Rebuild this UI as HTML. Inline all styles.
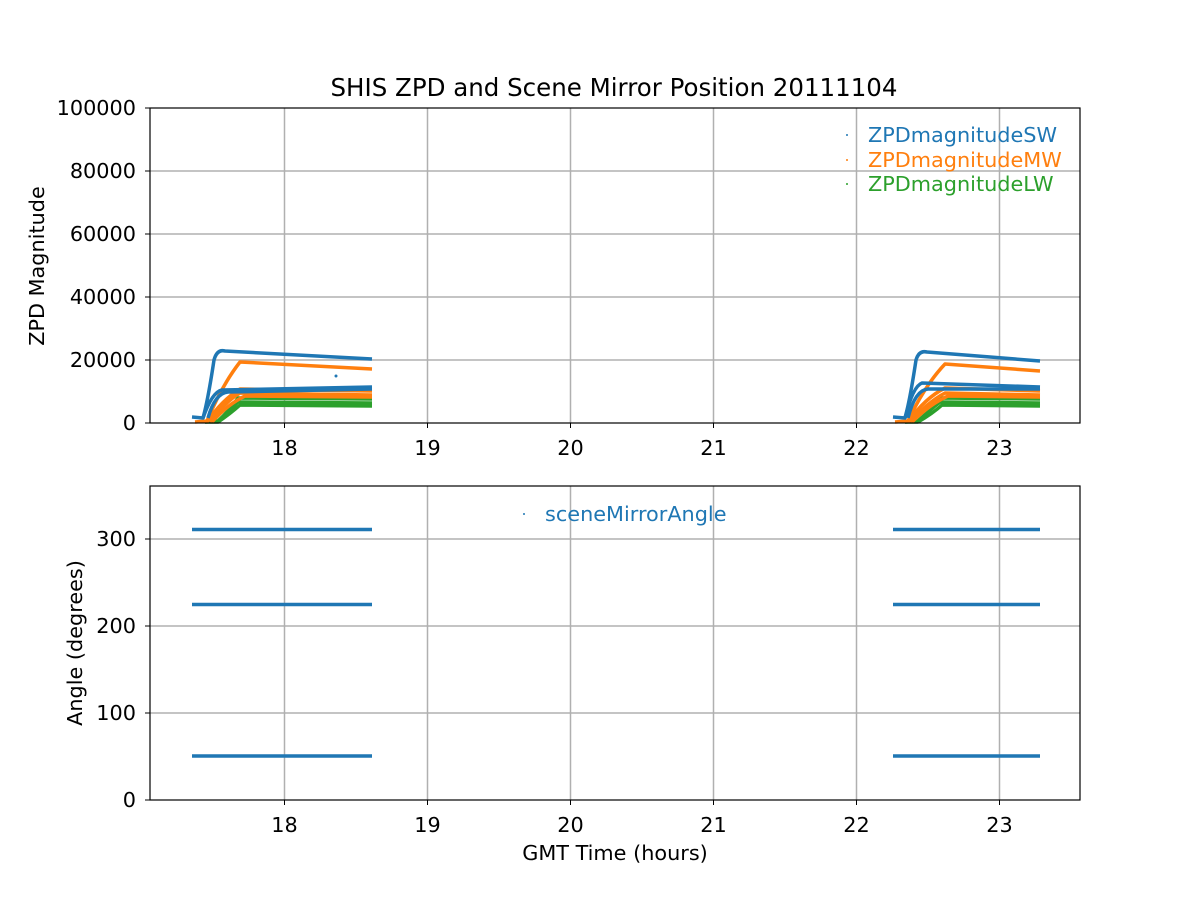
<!DOCTYPE html>
<html><head><style>body{margin:0;background:#fff}svg{display:block}</style></head><body>
<svg width="1200" height="900" xmlns="http://www.w3.org/2000/svg" font-family="DejaVu Sans, Liberation Sans, sans-serif" font-size="20.8">
<rect width="1200" height="900" fill="#fff"/>
<g stroke="#b0b0b0" stroke-width="1.5">
<line x1="284.5" y1="108" x2="284.5" y2="423"/><line x1="427.5" y1="108" x2="427.5" y2="423"/><line x1="570.5" y1="108" x2="570.5" y2="423"/><line x1="713.5" y1="108" x2="713.5" y2="423"/><line x1="856.5" y1="108" x2="856.5" y2="423"/><line x1="999.5" y1="108" x2="999.5" y2="423"/>
<line x1="150" y1="360" x2="1080" y2="360"/><line x1="150" y1="297" x2="1080" y2="297"/><line x1="150" y1="234" x2="1080" y2="234"/><line x1="150" y1="171" x2="1080" y2="171"/>
</g>
<g fill="none" stroke-width="3.5" stroke-linejoin="round">
<g stroke="#2ca02c">
<path d="M205,422 L218,421 Q228,412 238,398 L372,399"/><path d="M205,422 L218,422 Q230,414 240,405 L372,406"/><path d="M218,421 Q230,410 238,402 L372,403"/>
<path d="M905,422 L918,421 Q930,412 940,398 L1040,399"/><path d="M905,422 L918,422 Q932,414 942,405 L1040,406"/><path d="M918,421 Q930,410 940,402 L1040,403"/>
</g>
<g stroke="#ff7f0e">
<path d="M195,422 L207,421 Q222,385 240,362 L372,369"/><path d="M207,422 Q222,400 240,389 L372,391"/><path d="M210,422 Q225,402 240,393 L372,395"/><path d="M212,422 Q228,404 245,396 L372,397"/>
<path d="M895,422 L908,421 Q925,385 945,364 L1040,371"/><path d="M908,422 Q925,398 945,388 L1040,391"/><path d="M910,422 Q928,402 945,393 L1040,395"/><path d="M912,422 Q930,404 948,396 L1040,397"/>
</g>
<g stroke="#1f77b4">
<path d="M192,417 L203,418 Q208,400 214,360 Q217,349 225,351 L372,359"/><path d="M203,418 Q212,392 222,390 L372,387"/><path d="M208,418 Q215,393 228,392 L372,389"/>
<path d="M893,417 L905,418 Q910,400 916,360 Q919,350 927,352 L1040,361"/><path d="M905,418 Q913,386 922,383 L1040,387"/><path d="M908,418 Q915,390 928,389 L1040,389"/>
</g>
</g>
<circle cx="336" cy="376" r="1.5" fill="#1f77b4"/>
<rect x="150" y="108" width="930" height="315" fill="none" stroke="#000" stroke-width="1.2"/>
<g stroke="#000"><line x1="284.5" y1="423" x2="284.5" y2="428"/><line x1="427.5" y1="423" x2="427.5" y2="428"/><line x1="570.5" y1="423" x2="570.5" y2="428"/><line x1="713.5" y1="423" x2="713.5" y2="428"/><line x1="856.5" y1="423" x2="856.5" y2="428"/><line x1="999.5" y1="423" x2="999.5" y2="428"/>
<line x1="145" y1="423" x2="150" y2="423"/><line x1="145" y1="360" x2="150" y2="360"/><line x1="145" y1="297" x2="150" y2="297"/><line x1="145" y1="234" x2="150" y2="234"/><line x1="145" y1="171" x2="150" y2="171"/><line x1="145" y1="108" x2="150" y2="108"/></g>
<g text-anchor="middle"><text x="284.5" y="455">18</text><text x="427.5" y="455">19</text><text x="570.5" y="455">20</text><text x="713.5" y="455">21</text><text x="856.5" y="455">22</text><text x="999.5" y="455">23</text></g>
<g text-anchor="end"><text x="136" y="430">0</text><text x="136" y="367">20000</text><text x="136" y="304">40000</text><text x="136" y="241">60000</text><text x="136" y="178">80000</text><text x="136" y="115">100000</text></g>
<text x="614" y="96" text-anchor="middle" font-size="24.5">SHIS ZPD and Scene Mirror Position 20111104</text>
<text transform="translate(44,266) rotate(-90)" text-anchor="middle">ZPD Magnitude</text>
<circle cx="847" cy="135" r="1" fill="#1f77b4"/><text x="868" y="142" fill="#1f77b4">ZPDmagnitudeSW</text>
<circle cx="847" cy="160" r="1" fill="#ff7f0e"/><text x="868" y="167" fill="#ff7f0e">ZPDmagnitudeMW</text>
<circle cx="847" cy="184" r="1" fill="#2ca02c"/><text x="868" y="191" fill="#2ca02c">ZPDmagnitudeLW</text>
<g stroke="#b0b0b0" stroke-width="1.5">
<line x1="284.5" y1="486" x2="284.5" y2="800"/><line x1="427.5" y1="486" x2="427.5" y2="800"/><line x1="570.5" y1="486" x2="570.5" y2="800"/><line x1="713.5" y1="486" x2="713.5" y2="800"/><line x1="856.5" y1="486" x2="856.5" y2="800"/><line x1="999.5" y1="486" x2="999.5" y2="800"/>
<line x1="150" y1="713" x2="1080" y2="713"/><line x1="150" y1="626" x2="1080" y2="626"/><line x1="150" y1="539" x2="1080" y2="539"/>
</g>
<g stroke="#1f77b4" stroke-width="3.5">
<line x1="192" y1="529.5" x2="372" y2="529.5"/><line x1="192" y1="604.5" x2="372" y2="604.5"/><line x1="192" y1="756" x2="372" y2="756"/>
<line x1="893" y1="529.5" x2="1040" y2="529.5"/><line x1="893" y1="604.5" x2="1040" y2="604.5"/><line x1="893" y1="756" x2="1040" y2="756"/>
</g>
<rect x="150" y="486" width="930" height="314" fill="none" stroke="#000" stroke-width="1.2"/>
<g stroke="#000"><line x1="284.5" y1="800" x2="284.5" y2="805"/><line x1="427.5" y1="800" x2="427.5" y2="805"/><line x1="570.5" y1="800" x2="570.5" y2="805"/><line x1="713.5" y1="800" x2="713.5" y2="805"/><line x1="856.5" y1="800" x2="856.5" y2="805"/><line x1="999.5" y1="800" x2="999.5" y2="805"/>
<line x1="145" y1="800" x2="150" y2="800"/><line x1="145" y1="713" x2="150" y2="713"/><line x1="145" y1="626" x2="150" y2="626"/><line x1="145" y1="539" x2="150" y2="539"/></g>
<g text-anchor="middle"><text x="284.5" y="832">18</text><text x="427.5" y="832">19</text><text x="570.5" y="832">20</text><text x="713.5" y="832">21</text><text x="856.5" y="832">22</text><text x="999.5" y="832">23</text></g>
<g text-anchor="end"><text x="136" y="807">0</text><text x="136" y="720">100</text><text x="136" y="633">200</text><text x="136" y="546">300</text></g>
<text x="615" y="860" text-anchor="middle">GMT Time (hours)</text>
<text transform="translate(82,643) rotate(-90)" text-anchor="middle">Angle (degrees)</text>
<circle cx="524" cy="514" r="1" fill="#1f77b4"/><text x="545" y="521" fill="#1f77b4">sceneMirrorAngle</text>
</svg>
</body></html>
